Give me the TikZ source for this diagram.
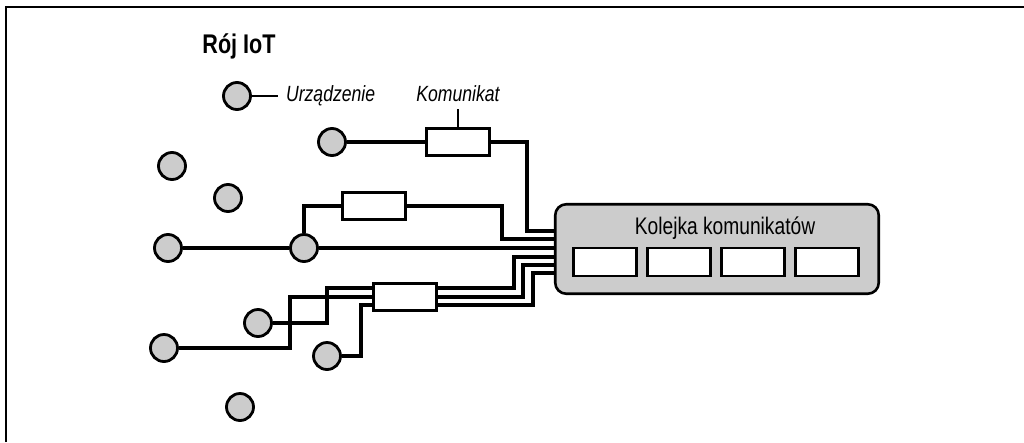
\documentclass[tikz,border=0pt]{standalone}
\usepackage{fontspec}
\setmainfont{Liberation Sans}[FakeStretch=0.8]
\usepackage{xcolor}
\definecolor{devgray}{RGB}{204,204,204}
\usetikzlibrary{positioning}

\begin{document}
\begin{tikzpicture}[x=1pt,y=-1pt,dev/.style={draw,fill=devgray,circle,line width=2.8pt,minimum size=27pt,inner sep=0pt},msg/.style={draw,fill=white,rectangle,line width=2.3pt,minimum width=63pt,minimum height=27pt,inner sep=0pt},slot/.style={draw,fill=white,rectangle,line width=2.3pt,minimum width=63pt,minimum height=28pt,inner sep=0pt},wire/.style={line width=3.4pt},tick/.style={line width=1.7pt},lbl/.style={font=\fontsize{22}{26}\selectfont\itshape,inner sep=3pt}]
                \useasboundingbox (0,0) rectangle (1024,442);
                \draw[line width=2.6pt] (6,442) -- (6,7) -- (1024,7);
                \node[font=\fontsize{27}{31}\selectfont\bfseries,anchor=base] (title) at (239,53) {Rój IoT};
                \node[dev] (leg) at (237,96) {};
                \node[lbl,right=26pt of leg,inner xsep=8pt] (urz) {Urządzenie};
                \draw[tick] (leg) -- (urz.west);
                \node[dev] (d1) at (332,142) {};
                \node[dev] (d2) at (172,166) {};
                \node[dev] (d3) at (228,198) {};
                \node[dev] (d4) at (168,248) {};
                \node[dev] (d5) at (304,248) {};
                \node[dev] (d6) at (258,323) {};
                \node[dev] (d7) at (164,348) {};
                \node[dev] (d8) at (327,356) {};
                \node[dev] (d9) at (240,407) {};
                \node[msg] (m1) at (458,142) {};
                \node[msg] (m2) at (374,206) {};
                \node[msg] (m3) at (405,297) {};
                \node[lbl,inner ysep=7pt,above=18pt of m1] (kom) {Komunikat};
                \draw[tick] (kom) -- (m1);
                \foreach \n/\y in {1/231,2/239,3/248,4/257,5/265,6/273}
                    \coordinate (q\n) at (556,\y);
                \draw[wire] (d1) -- (m1);
                \draw[wire] (m1.east) -| (527,231) -- (q1);
                \draw[wire] (d4) -- (d5);
                \draw[wire] (d5) -- (q3);
                \draw[wire] (d5) |- (m2);
                \draw[wire] (m2.east) -| (502,239) -- (q2);
                \draw[wire] (d7) -| (290,297) -- (m3);
                \draw[wire] (d6) -| (327,288) -- ([yshift=9pt]m3.west);
                \draw[wire] (d8) -| (361,305) -- ([yshift=-8pt]m3.west);
                \draw[wire] ([yshift=9pt]m3.east) -| (514,257) -- (q4);
                \draw[wire] (m3.east) -| (523,265) -- (q5);
                \draw[wire] ([yshift=-8pt]m3.east) -| (533,273) -- (q6);
                \node[draw,fill=devgray,rounded corners=11pt,line width=2.6pt,minimum width=323.5pt,minimum height=89.5pt] (queue) at (717,249) {};
                \node[font=\fontsize{24}{28}\selectfont,anchor=base] (qlbl) at (725,234) {Kolejka komunikatów};
                \foreach \i in {1,...,4}
                    \node[slot] (s\i) at (531+74*\i,262) {};
                \end{tikzpicture}
\end{document}
